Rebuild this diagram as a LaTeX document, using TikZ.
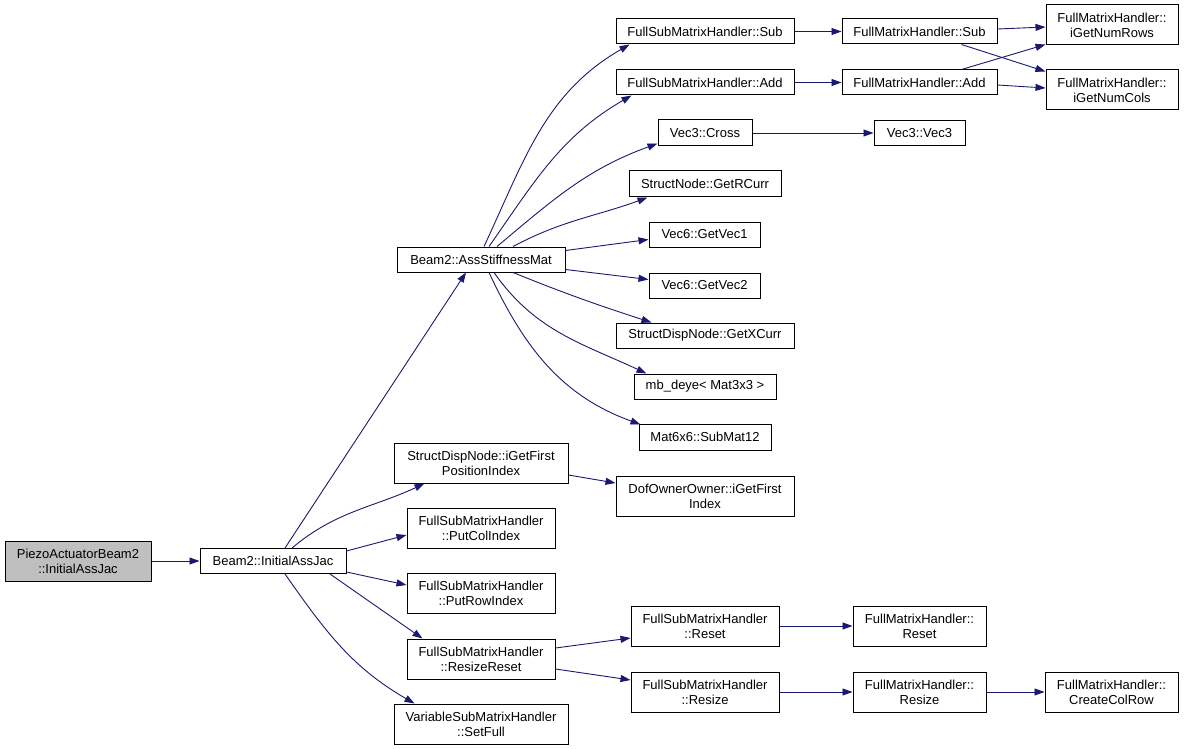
\documentclass[tikz,border=0pt]{standalone}
\usepackage{fontspec}
\setmainfont{Liberation Sans}
\usetikzlibrary{arrows.meta,calc}
\definecolor{edgeblue}{HTML}{191970}
\definecolor{rootgray}{HTML}{BFBFBF}
\begin{document}
\begin{tikzpicture}[x=1pt,y=1pt,
  box/.style={draw=black,line width=1pt,inner sep=0pt,align=center,fill=white,
    font=\fontsize{13}{15}\selectfont},
  root/.style={box,fill=rootgray},
  edge/.style={draw=edgeblue,line width=0.9pt,-{Triangle[length=10pt,width=7pt]}}]
\useasboundingbox (0,0) rectangle (1184,-749);
% nodes
\node[root,minimum width=146,minimum height=40] (piezo) at (78,-561) {PiezoActuatorBeam2\\::InitialAssJac};
\node[box,minimum width=146,minimum height=25] (ini) at (273,-561) {Beam2::InitialAssJac};
\node[box,minimum width=168,minimum height=25] (ass) at (481,-259.5) {Beam2::AssStiffnessMat};
\node[box,minimum width=178,minimum height=25] (fsSub) at (705,-31.5) {FullSubMatrixHandler::Sub};
\node[box,minimum width=178,minimum height=25] (fsAdd) at (705,-82.5) {FullSubMatrixHandler::Add};
\node[box,minimum width=94,minimum height=26] (cross) at (705,-133) {Vec3::Cross};
\node[box,minimum width=152,minimum height=26] (rcurr) at (705,-184) {StructNode::GetRCurr};
\node[box,minimum width=111,minimum height=25] (vec1) at (704.5,-234.5) {Vec6::GetVec1};
\node[box,minimum width=111,minimum height=25] (vec2) at (704.5,-285.5) {Vec6::GetVec2};
\node[box,minimum width=178,minimum height=25] (xcurr) at (705,-335.5) {StructDispNode::GetXCurr};
\node[box,minimum width=142,minimum height=25] (deye) at (705,-386.5) {mb\_deye< Mat3x3 >};
\node[box,minimum width=132,minimum height=26] (submat) at (705,-437) {Mat6x6::SubMat12};
\node[box,minimum width=155,minimum height=25] (fmSub) at (919.5,-31.5) {FullMatrixHandler::Sub};
\node[box,minimum width=155,minimum height=25] (fmAdd) at (919.5,-82.5) {FullMatrixHandler::Add};
\node[box,minimum width=132,minimum height=40] (rows) at (1112,-25) {FullMatrixHandler::\\iGetNumRows};
\node[box,minimum width=132,minimum height=40] (cols) at (1112,-90) {FullMatrixHandler::\\iGetNumCols};
\node[box,minimum width=91,minimum height=25] (vec3) at (919.5,-133) {Vec3::Vec3};
\node[box,minimum width=174,minimum height=40] (pos) at (481,-463) {StructDispNode::iGetFirst\\PositionIndex};
\node[box,minimum width=178,minimum height=40] (dof) at (705,-496) {DofOwnerOwner::iGetFirst\\Index};
\node[box,minimum width=148,minimum height=40] (putcol) at (481,-528) {FullSubMatrixHandler\\::PutColIndex};
\node[box,minimum width=148,minimum height=40] (putrow) at (481,-593) {FullSubMatrixHandler\\::PutRowIndex};
\node[box,minimum width=148,minimum height=40] (rr) at (481,-659) {FullSubMatrixHandler\\::ResizeReset};
\node[box,minimum width=174,minimum height=40] (setfull) at (481,-724) {VariableSubMatrixHandler\\::SetFull};
\node[box,minimum width=148,minimum height=40] (fsReset) at (705,-626) {FullSubMatrixHandler\\::Reset};
\node[box,minimum width=148,minimum height=40] (fsResize) at (705,-692) {FullSubMatrixHandler\\::Resize};
\node[box,minimum width=133,minimum height=40] (fmReset) at (919.5,-626) {FullMatrixHandler::\\Reset};
\node[box,minimum width=133,minimum height=40] (fmResize) at (919.5,-692) {FullMatrixHandler::\\Resize};
\node[box,minimum width=133,minimum height=40] (ccr) at (1111.5,-692) {FullMatrixHandler::\\CreateColRow};
% edges
\draw[edge] (piezo.east) -- (ini.west);
\draw[edge] ([xshift=12pt]ini.north) -- ([xshift=-15pt]ass.south);
\draw[edge] ([xshift=19pt]ini.north) to[out=40,in=205] ($(pos.south west)+(31,0)$);
\draw[edge] ($(ini.north east)+(0,-3)$) -- ([yshift=-7pt]putcol.west);
\draw[edge] ($(ini.south east)+(0,2)$) -- ([yshift=8pt]putrow.west);
\draw[edge] ([xshift=57pt]ini.south) -- ($(rr.north west)+(16,0)$);
\draw[edge] ([xshift=12pt]ini.south) to[out=-55,in=150] ($(setfull.north west)+(21,0)$);
\draw[edge] ([xshift=3pt]ass.north) to[out=65,in=210] ($(fsSub.south west)+(14,0)$);
\draw[edge] ([xshift=8pt]ass.north) to[out=55,in=210] ($(fsAdd.south west)+(16,0)$);
\draw[edge] ([xshift=16pt]ass.north) to[out=40,in=200] ($(cross.south west)+(0,3)$);
\draw[edge] ([xshift=32pt]ass.north) to[out=28,in=200] ($(rcurr.south west)+(19,0)$);
\draw[edge] ($(ass.north east)+(0,-4)$) -- ([yshift=-5pt]vec1.west);
\draw[edge] ($(ass.south east)+(0,3)$) -- ([yshift=6pt]vec2.west);
\draw[edge] ([xshift=32pt]ass.south) to[out=-22,in=162] ($(xcurr.north west)+(36,0)$);
\draw[edge] ([xshift=13pt]ass.south) to[out=-55,in=155] ($(deye.north west)+(13,0)$);
\draw[edge] ([xshift=8pt]ass.south) to[out=-65,in=160] ($(submat.north west)+(2,-1)$);
\draw[edge] (fsSub.east) -- (fmSub.west);
\draw[edge] (fsAdd.east) -- (fmAdd.west);
\draw[edge] (cross.east) -- (vec3.west);
\draw[edge] ([yshift=2.5pt]fmSub.east) -- ([yshift=-2pt]rows.west);
\draw[edge] ($(fmSub.south west)+(120,0)$) -- ($(cols.north west)+(0,-2)$);
\draw[edge] ($(fmAdd.north west)+(120,0)$) -- ($(rows.south west)+(0,1)$);
\draw[edge] ([yshift=-2.5pt]fmAdd.east) -- ([yshift=2pt]cols.west);
\draw[edge] ([yshift=-12pt]pos.east) -- ([yshift=13pt]dof.west);
\draw[edge] ([yshift=11pt]rr.east) -- ([yshift=-12pt]fsReset.west);
\draw[edge] ([yshift=-10pt]rr.east) -- ([yshift=12pt]fsResize.west);
\draw[edge] (fsReset.east) -- (fmReset.west);
\draw[edge] (fsResize.east) -- (fmResize.west);
\draw[edge] (fmResize.east) -- (ccr.west);
\end{tikzpicture}
\end{document}
